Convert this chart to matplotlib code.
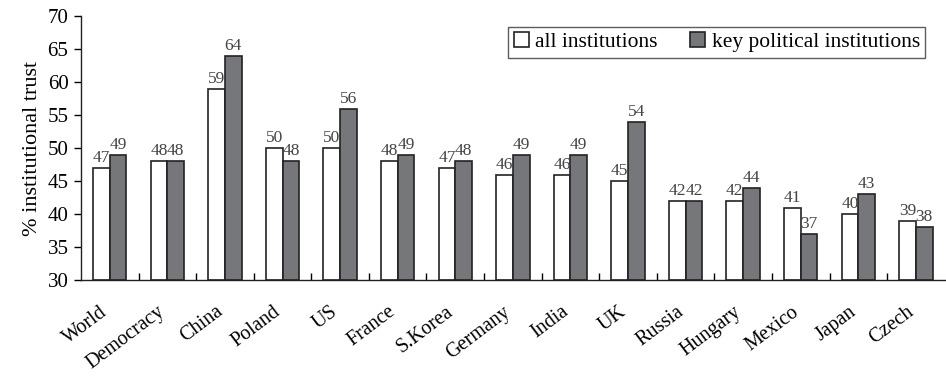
import matplotlib
matplotlib.use('Agg')
import matplotlib.pyplot as plt
import matplotlib.transforms as mtransforms
import numpy as np

countries = ['World', 'Democracy', 'China', 'Poland', 'US', 'France', 'S.Korea',
             'Germany', 'India', 'UK', 'Russia', 'Hungary', 'Mexico', 'Japan', 'Czech']
all_inst = [47, 48, 59, 50, 50, 48, 47, 46, 46, 45, 42, 42, 41, 40, 39]
key_inst = [49, 48, 64, 48, 56, 49, 48, 49, 49, 54, 42, 44, 37, 43, 38]

plt.rcParams['font.family'] = ['Liberation Serif', 'DejaVu Serif']

fig = plt.figure(figsize=(9.46, 3.76), dpi=100)
ax = fig.add_axes([0.0856, 0.255, 0.913, 0.702])

x = np.arange(len(countries))
w = 0.29
ax.bar(x - w / 2, np.array(all_inst) - 30, w, bottom=30, color='white',
       edgecolor='#222222', linewidth=1.2, label='all institutions')
ax.bar(x + w / 2, np.array(key_inst) - 30, w, bottom=30, color='#76777b',
       edgecolor='#222222', linewidth=1.2, label='key political institutions')

for xi, v in zip(x, all_inst):
    ax.text(xi - w / 2, v + 0.3, str(v), ha='center', va='bottom', fontsize=12.5, color='#444444')
for xi, v in zip(x, key_inst):
    ax.text(xi + w / 2, v + 0.3, str(v), ha='center', va='bottom', fontsize=12.5, color='#444444')

ax.set_xlim(-0.5, len(countries) - 0.5)
ax.set_ylim(30, 70)
ax.set_yticks(range(30, 71, 5))
ax.tick_params(axis='y', labelsize=15, direction='out', length=5, width=1, pad=4)
ax.set_xticks(x)
ax.set_xticklabels(countries, rotation=37, ha='right', rotation_mode='anchor', fontsize=14.5)
ax.tick_params(axis='x', which='major', length=0, pad=16)
ax.set_xticks(x[:-1] + 0.5, minor=True)
ax.tick_params(axis='x', which='minor', direction='in', length=5, width=1)

shift = mtransforms.ScaledTranslation(-10 / 100, 0, fig.dpi_scale_trans)
for lbl in ax.get_xticklabels():
    lbl.set_transform(lbl.get_transform() + shift)

for s in ['top', 'right']:
    ax.spines[s].set_visible(False)
for s in ['left', 'bottom']:
    ax.spines[s].set_linewidth(1)
    ax.spines[s].set_color('#222222')

ax.set_ylabel('% institutional trust', fontsize=16, labelpad=4)

leg = ax.legend(loc='upper right', bbox_to_anchor=(0.99, 1.0), ncol=2, fontsize=15.5,
                frameon=True, fancybox=False, edgecolor='#333333', handlelength=0.7,
                handleheight=0.7, handletextpad=0.3, columnspacing=1.5, borderpad=0.25)
leg.get_frame().set_linewidth(1)

fig.savefig('out.png', dpi=100)
